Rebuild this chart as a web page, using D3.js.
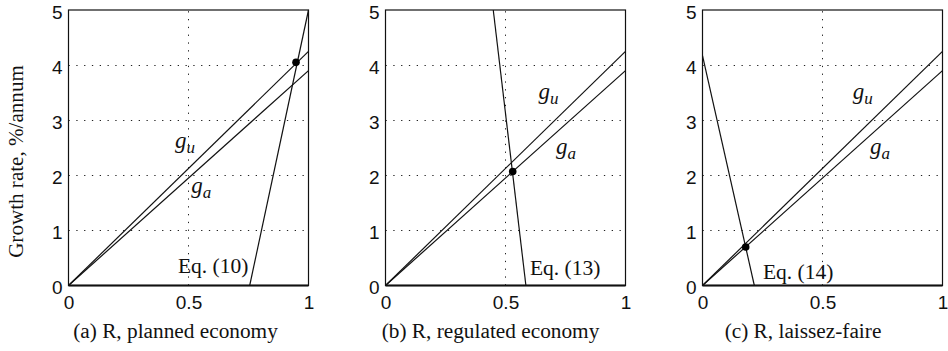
<!DOCTYPE html>
<html>
<head>
<meta charset="utf-8">
<script src="https://cdn.jsdelivr.net/npm/d3@7"></script>
<style>
  html, body { margin: 0; padding: 0; background: #fff; }
  svg { display: block; }
  .serif { font-family: "Liberation Serif", "DejaVu Serif", serif; }
  .sans { font-family: "Liberation Sans", "DejaVu Sans", sans-serif; }
</style>
</head>
<body>
<svg id="chart" width="948" height="351"></svg>
<script>
// ---------------- data ----------------
const captions = ["(a) R, planned economy", "(b) R, regulated economy", "(c) R, laissez-faire"];
const xTicks = [0, 0.5, 1];
const xTickLabels = ["0", "0.5", "1"];
const yTicks = [0, 1, 2, 3, 4, 5];
const yTickLabels = ["0", "1", "2", "3", "4", "5"];
const xGrid = [0.5];
const yGrid = [1, 2, 3, 4];
const yTitle = "Growth rate, %/annum";

// g_u and g_a lines (same in every panel)
const lineR = [0, 1];
const guValues = [0, 4.25];
const gaValues = [0, 3.9];

// equilibrium-condition line per panel
const eqLabels = ["Eq. (10)", "Eq. (13)", "Eq. (14)"];
const eqR = [[0.755, 1.0], [0.449, 0.585], [0.0, 0.216]];
const eqG = [[0.0, 5.0], [5.0, 0.0], [4.17, 0.0]];

// equilibrium points
const equilibriumR = [0.948, 0.530, 0.180];
const equilibriumG = [4.05, 2.07, 0.70];

// ---------------- layout ----------------
const panelLeft = [68.5, 385.5, 702.5];
const panelW = 240, plotTop = 10, plotBottom = 285.5;
const captionOffset = [107, 105, 100.5];
// annotation anchors (data coordinates)
const guLabelPos = [[0.444, 2.50], [0.637, 3.38], [0.626, 3.38]];
const gaLabelPos = [[0.511, 1.68], [0.710, 2.39], [0.698, 2.39]];
const eqLabelPos = [[0.456, 0.225], [0.602, 0.19], [0.252, 0.11]];

const svg = d3.select("#chart");

captions.forEach((cap, i) => {
  const x = d3.scaleLinear().domain([0, 1]).range([panelLeft[i], panelLeft[i] + panelW]);
  const y = d3.scaleLinear().domain([0, 5]).range([plotBottom, plotTop]);
  const g = svg.append("g");

  // grid
  g.selectAll(".gy").data(yGrid).join("line")
    .attr("x1", x(0)).attr("x2", x(1))
    .attr("y1", d => Math.round(y(d)) + 0.5).attr("y2", d => Math.round(y(d)) + 0.5)
    .attr("stroke", "#222").attr("stroke-width", 1).attr("stroke-dasharray", "1.3,6.5");
  g.selectAll(".gx").data(xGrid).join("line")
    .attr("x1", d => x(d)).attr("x2", d => x(d))
    .attr("y1", y(0)).attr("y2", y(5))
    .attr("stroke", "#222").attr("stroke-width", 1).attr("stroke-dasharray", "1.3,6.5");

  // axes labels
  const ax = g.append("g").attr("transform", `translate(${x(0)},0)`)
    .call(d3.axisLeft(y).tickValues(yTicks).tickFormat((d, k) => yTickLabels[k]).tickSize(0).tickPadding(6));
  ax.select(".domain").remove();
  ax.attr("font-family", null).attr("font-size", null);
  ax.selectAll("text").attr("class", "sans").attr("font-size", 19).attr("fill", "#111").attr("dy", "0.43em");

  const bx = g.append("g").attr("transform", `translate(0,${y(0)})`)
    .call(d3.axisBottom(x).tickValues(xTicks).tickFormat((d, k) => xTickLabels[k]).tickSize(0).tickPadding(10.5));
  bx.select(".domain").remove();
  bx.attr("font-family", null).attr("font-size", null);
  bx.selectAll("text").attr("class", "sans").attr("font-size", 19).attr("fill", "#111");

  // frame
  g.append("rect").attr("x", x(0)).attr("y", y(5)).attr("width", x(1) - x(0)).attr("height", y(0) - y(5))
    .attr("fill", "none").attr("stroke", "#111").attr("stroke-width", 1.2);
  g.append("line").attr("x1", x(0)).attr("x2", x(1)).attr("y1", y(0)).attr("y2", y(0))
    .attr("stroke", "#111").attr("stroke-width", 2.2);

  // data lines
  const line = d3.line().x(d => x(d[0])).y(d => y(d[1]));
  [guValues, gaValues].forEach(vals => {
    g.append("path").attr("d", line(lineR.map((r, k) => [r, vals[k]])))
      .attr("fill", "none").attr("stroke", "#111").attr("stroke-width", 1.2);
  });
  g.append("path").attr("d", line(eqR[i].map((r, k) => [r, eqG[i][k]])))
    .attr("fill", "none").attr("stroke", "#111").attr("stroke-width", 1.2);

  // equilibrium dot
  g.append("circle").attr("cx", x(equilibriumR[i])).attr("cy", y(equilibriumG[i])).attr("r", 3.8).attr("fill", "#000");

  // labels
  [[guLabelPos[i], "u"], [gaLabelPos[i], "a"]].forEach(([p, sub]) => {
    const t = g.append("text").attr("class", "serif").attr("x", x(p[0])).attr("y", y(p[1]))
      .attr("font-style", "italic").attr("font-size", 23).attr("fill", "#111");
    t.append("tspan").text("g");
    t.append("tspan").attr("font-size", 17).attr("dy", 5).text(sub);
  });
  g.append("text").attr("class", "serif").attr("x", x(eqLabelPos[i][0])).attr("y", y(eqLabelPos[i][1]))
    .attr("font-size", 21.5).attr("fill", "#111").text(eqLabels[i]);

  // caption
  g.append("text").attr("class", "serif").attr("x", panelLeft[i] + captionOffset[i]).attr("y", 337.5)
    .attr("text-anchor", "middle").attr("font-size", 21.3).attr("fill", "#111").text(cap);
});

// y-axis title
svg.append("text").attr("class", "serif").attr("transform", "translate(23,161.5) rotate(-90)")
  .attr("text-anchor", "middle").attr("font-size", 21.1).attr("fill", "#111")
  .text(yTitle);
</script>
</body>
</html>
